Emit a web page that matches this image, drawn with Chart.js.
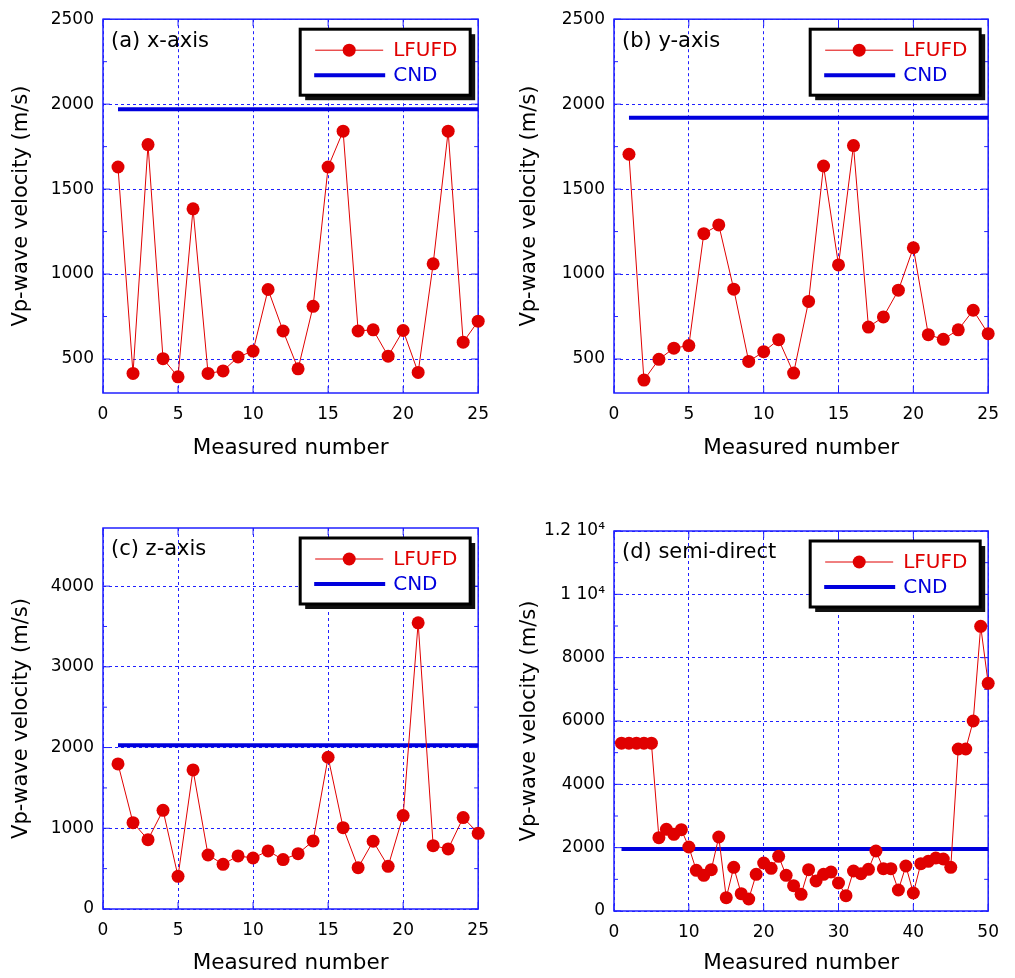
<!DOCTYPE html>
<html>
<head>
<meta charset="utf-8">
<script src="https://cdn.jsdelivr.net/npm/chart.js@4.4.0/dist/chart.umd.min.js"></script>
<style>
  html, body { margin: 0; background: #fff; }
  body { width: 1015px; height: 978px; position: relative; overflow: hidden; }
  canvas { position: absolute; }
</style>
</head>
<body>
<canvas id="pa" width="500" height="480" style="left:0;top:0"></canvas>
<canvas id="pb" width="500" height="480" style="left:510px;top:0"></canvas>
<canvas id="pc" width="500" height="488" style="left:0;top:490px"></canvas>
<canvas id="pd" width="500" height="488" style="left:510px;top:490px"></canvas>
<script>
const FONT = '"DejaVu Sans", Arial, sans-serif';
const RED = '#e00000';
const BLUE = '#0000dd';
const GRID = '#2020ff';

// measured numbers
const num25 = [1, 2, 3, 4, 5, 6, 7, 8, 9, 10, 11, 12, 13, 14, 15, 16, 17, 18, 19, 20, 21, 22, 23, 24, 25];
const num50 = [1, 2, 3, 4, 5, 6, 7, 8, 9, 10, 11, 12, 13, 14, 15, 16, 17, 18, 19, 20, 21, 22, 23, 24, 25,
               26, 27, 28, 29, 30, 31, 32, 33, 34, 35, 36, 37, 38, 39, 40, 41, 42, 43, 44, 45, 46, 47, 48, 49, 50];

// Vp-wave velocity (m/s), LFUFD
const lfufdX = [1630, 415, 1762, 502, 395, 1384, 415, 430, 512, 547, 909, 665, 442, 810, 1630, 1841, 665, 672, 517, 668, 421, 1060, 1841, 599, 723];
const lfufdY = [1705, 376, 498, 564, 579, 1238, 1289, 911, 486, 543, 614, 417, 839, 1636, 1054, 1756, 688, 748, 905, 1155, 643, 616, 672, 787, 649];
const lfufdZ = [1797, 1070, 859, 1223, 405, 1723, 669, 554, 657, 632, 719, 612, 686, 843, 1880, 1008, 512, 839, 529, 1157, 3545, 785, 744, 1132, 938];
const lfufdSemi = [5300, 5300, 5300, 5300, 5300, 2316, 2579, 2421, 2568, 2021, 1284, 1126, 1305, 2337, 421, 1379, 547, 379, 1158, 1516,
                   1347, 1726, 1126, 800, 526, 1305, 947, 1158, 1232, 884, 484, 1263, 1179, 1316, 1895, 1337, 1337, 663, 1421, 568,
                   1495, 1568, 1674, 1642, 1379, 5116, 5116, 6000, 8989, 7189];

// CND reference velocity and the measured-number span it covers
const cndX = 1970, cndY = 1920, cndZ = 2030, cndSemi = 1960;
const cndSpan25 = [1, 25];
const cndSpan50 = [1, 50];

// axes
const xTicks25 = [0, 5, 10, 15, 20, 25];
const xTicks50 = [0, 10, 20, 30, 40, 50];
const yTicksXY = [500, 1000, 1500, 2000, 2500];
const yTicksZ = [0, 1000, 2000, 3000, 4000];
const yTicksSemi = [0, 2000, 4000, 6000, 8000, 10000, 12000];
const yLabelsSemi = ['0', '2000', '4000', '6000', '8000', '1 10\u2074', '1.2 10\u2074'];

const legendNames = ['LFUFD', 'CND'];

const decor = {
  id: 'decor',
  beforeDatasetsDraw(chart, args, o) {
    const { ctx, chartArea: a, scales: { x, y } } = chart;
    ctx.save();
    ctx.strokeStyle = GRID;
    ctx.lineWidth = 1.5;
    ctx.strokeRect(a.left, a.top, a.width, a.height);
    ctx.lineWidth = 1;
    ctx.beginPath();
    const yt = o.yTicks;
    yt.forEach(v => {
      const p = y.getPixelForValue(v);
      ctx.moveTo(a.left, p); ctx.lineTo(a.left + 7, p);
      ctx.moveTo(a.right, p); ctx.lineTo(a.right - 7, p);
      const m = v - (yt[1] - yt[0]) / 2;
      if (m > y.min) {
        const q = y.getPixelForValue(m);
        ctx.moveTo(a.left, q); ctx.lineTo(a.left + 4, q);
        ctx.moveTo(a.right, q); ctx.lineTo(a.right - 4, q);
      }
    });
    o.xTicks.forEach(v => {
      const p = x.getPixelForValue(v);
      ctx.moveTo(p, a.bottom); ctx.lineTo(p, a.bottom - 7);
      ctx.moveTo(p, a.top); ctx.lineTo(p, a.top + 7);
    });
    ctx.stroke();
    ctx.restore();
  },
  afterDraw(chart, args, o) {
    const { ctx, chartArea: a } = chart;
    ctx.save();
    // panel caption
    ctx.fillStyle = '#000';
    ctx.font = '21px ' + FONT;
    ctx.textBaseline = 'middle';
    ctx.fillText(o.caption, a.left + 8, a.top + 22);

    // legend box with drop shadow
    const w = 170, h = 66;
    const bx = a.right - 8 - w, by = a.top + 10;
    ctx.fillStyle = '#111';
    ctx.fillRect(bx + 5, by + 5, w, h);
    ctx.fillStyle = '#fff';
    ctx.fillRect(bx, by, w, h);
    ctx.strokeStyle = '#000';
    ctx.lineWidth = 3;
    ctx.strokeRect(bx, by, w, h);

    ctx.strokeStyle = RED;
    ctx.lineWidth = 1;
    ctx.beginPath();
    ctx.moveTo(bx + 15, by + 21); ctx.lineTo(bx + 83, by + 21);
    ctx.stroke();
    ctx.fillStyle = RED;
    ctx.beginPath();
    ctx.arc(bx + 49, by + 21, 6.5, 0, Math.PI * 2);
    ctx.fill();
    ctx.strokeStyle = BLUE;
    ctx.lineWidth = 4;
    ctx.beginPath();
    ctx.moveTo(bx + 14, by + 46); ctx.lineTo(bx + 85, by + 46);
    ctx.stroke();

    ctx.font = '20px ' + FONT;
    ctx.fillStyle = RED;
    ctx.fillText(legendNames[0], bx + 93, by + 22);
    ctx.fillStyle = BLUE;
    ctx.fillText(legendNames[1], bx + 93, by + 47);
    ctx.restore();
  }
};

function panel(id, p) {
  const yLabels = p.yLabels;
  return new Chart(document.getElementById(id), {
    type: 'scatter',
    data: {
      datasets: [
        {
          label: legendNames[1],
          data: p.cndSpan.map(v => ({ x: v, y: p.cnd })),
          showLine: true,
          borderColor: BLUE,
          borderWidth: 4,
          pointRadius: 0,
          clip: false,
          order: 2
        },
        {
          label: legendNames[0],
          data: p.num.map((n, i) => ({ x: n, y: p.values[i] })),
          showLine: true,
          borderColor: RED,
          borderWidth: 1,
          backgroundColor: RED,
          pointBackgroundColor: RED,
          pointBorderWidth: 0,
          pointRadius: 6.5,
          clip: false,
          order: 1
        }
      ]
    },
    options: {
      responsive: false,
      animation: false,
      layout: { padding: { left: 0, top: p.top, right: p.right, bottom: 0 } },
      plugins: {
        legend: { display: false },
        tooltip: { enabled: false },
        decor: { caption: p.caption, xTicks: p.xTicks, yTicks: p.yTicks }
      },
      scales: {
        x: {
          type: 'linear',
          min: p.xTicks[0],
          max: p.xTicks[p.xTicks.length - 1],
          afterBuildTicks: s => { s.ticks = p.xTicks.map(v => ({ value: v })); },
          afterFit: s => { s.height = p.xh; },
          grid: { color: GRID, lineWidth: 1, drawTicks: false },
          border: { display: false, dash: [3, 3] },
          ticks: { color: '#000', padding: 11, maxRotation: 0, font: { family: FONT, size: 17 } },
          title: {
            display: true, text: 'Measured number', color: '#000',
            font: { family: FONT, size: 21.5 }, padding: { top: 0, bottom: p.xtPad }
          }
        },
        y: {
          type: 'linear',
          min: p.yMin,
          max: p.yMax,
          afterBuildTicks: s => { s.ticks = p.yTicks.map(v => ({ value: v })); },
          afterFit: s => { s.width = p.yw; },
          grid: { color: GRID, lineWidth: 1, drawTicks: false },
          border: { display: false, dash: [3, 3] },
          ticks: {
            color: '#000', padding: 9, font: { family: FONT, size: 17 },
            callback: (v, i) => yLabels ? yLabels[i] : String(v)
          },
          title: {
            display: true, text: 'Vp-wave velocity (m/s)', color: '#000',
            font: { family: FONT, size: 21 }, padding: { top: p.ytPad, bottom: 0 }
          }
        }
      }
    },
    plugins: [decor]
  });
}

panel('pa', { caption: '(a) x-axis', num: num25, values: lfufdX, cnd: cndX, cndSpan: cndSpan25,
  xTicks: xTicks25, yTicks: yTicksXY, yMin: 300, yMax: 2500,
  top: 13, right: 16, yw: 103, xh: 87, ytPad: 9, xtPad: 19 });
panel('pb', { caption: '(b) y-axis', num: num25, values: lfufdY, cnd: cndY, cndSpan: cndSpan25,
  xTicks: xTicks25, yTicks: yTicksXY, yMin: 300, yMax: 2500,
  top: 14, right: 14, yw: 104, xh: 87, ytPad: 7, xtPad: 19 });
panel('pc', { caption: '(c) z-axis', num: num25, values: lfufdZ, cnd: cndZ, cndSpan: cndSpan25,
  xTicks: xTicks25, yTicks: yTicksZ, yMin: 0, yMax: 4720,
  top: 38, right: 16, yw: 103, xh: 69, ytPad: 9, xtPad: 2 });
panel('pd', { caption: '(d) semi-direct', num: num50, values: lfufdSemi, cnd: cndSemi, cndSpan: cndSpan50,
  xTicks: xTicks50, yTicks: yTicksSemi, yLabels: yLabelsSemi, yMin: 0, yMax: 12000,
  top: 41, right: 14, yw: 104, xh: 67, ytPad: 7, xtPad: 2 });
</script>
</body>
</html>
